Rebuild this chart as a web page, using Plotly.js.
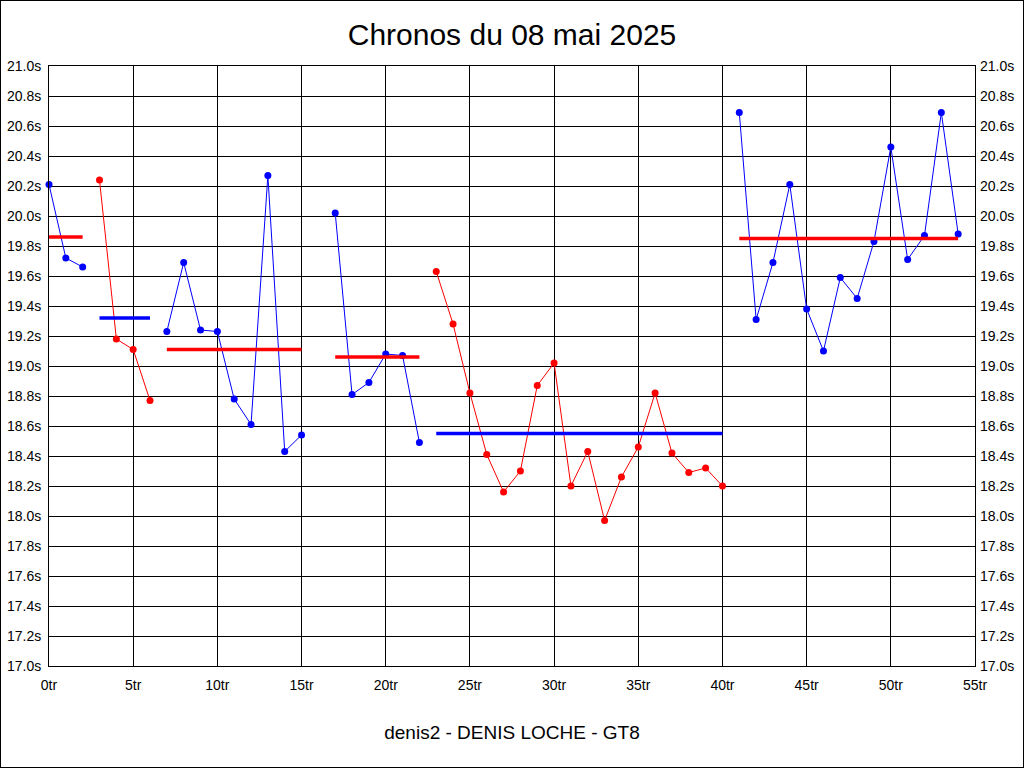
<!DOCTYPE html>
<html>
<head>
<meta charset="utf-8">
<script src="https://cdn.plot.ly/plotly-3.0.1.min.js"></script>
<style>
html,body{margin:0;padding:0;background:#fff;}
#chart{width:1022px;height:766px;border:1px solid #000;}
</style>
</head>
<body>
<div id="chart"></div>
<script>
// Lap numbers (tours) and lap times in seconds (null = no lap)
const laps = [];
for (let i = 0; i <= 54; i++) laps.push(i);
const lapTimes = [
  20.21, 19.72, 19.66,
  20.24, 19.18, 19.11, 18.77,
  19.23, 19.69, 19.24, 19.23, 18.78, 18.61, 20.27, 18.43, 18.54,
  null,
  20.02, 18.81, 18.89, 19.08, 19.07, 18.49,
  19.63, 19.28, 18.82, 18.41, 18.16, 18.30, 18.87, 19.02, 18.20, 18.43, 17.97, 18.26, 18.46, 18.82, 18.42, 18.29, 18.32, 18.20,
  20.69, 19.31, 19.69, 20.21, 19.38, 19.10, 19.59, 19.45, 19.83, 20.46, 19.71, 19.87, 20.69, 19.88
];
// Relay segments (first lap, last lap) and their average times
const segStart = [0, 3, 7, 17, 23, 41];
const segEnd   = [2, 6, 15, 22, 40, 54];
const segAvg   = [19.86, 19.32, 19.11, 19.06, 18.55, 19.85];
// Tick values and labels
const yTickVals = [17.0,17.2,17.4,17.6,17.8,18.0,18.2,18.4,18.6,18.8,19.0,19.2,19.4,19.6,19.8,20.0,20.2,20.4,20.6,20.8,21.0];
const yTickText = ['17.0s','17.2s','17.4s','17.6s','17.8s','18.0s','18.2s','18.4s','18.6s','18.8s','19.0s','19.2s','19.4s','19.6s','19.8s','20.0s','20.2s','20.4s','20.6s','20.8s','21.0s'];
const xTickVals = [0,5,10,15,20,25,30,35,40,45,50,55];
const xTickText = ['0tr','5tr','10tr','15tr','20tr','25tr','30tr','35tr','40tr','45tr','50tr','55tr'];

// styles
const segLineColor = ['#0000ff','#ff0000','#0000ff','#0000ff','#ff0000','#0000ff'];
const avgLineColor = ['#ff0000','#0000ff','#ff0000','#ff0000','#0000ff','#ff0000'];

const traces = [];
for (let s = 0; s < segStart.length; s++) {
  const xs = laps.slice(segStart[s], segEnd[s] + 1);
  const ys = lapTimes.slice(segStart[s], segEnd[s] + 1);
  traces.push({
    x: xs, y: ys, type: 'scatter', mode: 'lines+markers',
    line: {color: segLineColor[s], width: 1},
    marker: {color: segLineColor[s], size: 7},
    hoverinfo: 'x+y', showlegend: false, cliponaxis: false
  });
}
for (let s = 0; s < segStart.length; s++) {
  traces.push({
    x: [segStart[s], segEnd[s]], y: [segAvg[s], segAvg[s]],
    type: 'scatter', mode: 'lines',
    line: {color: avgLineColor[s], width: 3.5},
    hoverinfo: 'y', showlegend: false
  });
}
// invisible trace to activate right axis
traces.push({x: [segStart[0]], y: [segAvg[0]], yaxis: 'y2', type: 'scatter', mode: 'markers',
  marker: {opacity: 0}, hoverinfo: 'skip', showlegend: false});

const font = 'Liberation Sans, Arial, sans-serif';
const tf = {family: font, size: 14, color: '#000'};
const layout = {
  width: 1022, height: 766,
  paper_bgcolor: '#ffffff', plot_bgcolor: '#ffffff',
  margin: {l: 48, r: 48, t: 65, b: 101, pad: 0},
  font: {family: font, color: '#000', size: 14},
  title: {text: 'Chronos du 08 mai 2025', font: {family: font, size: 30, color: '#000'},
    x: 0.5, xanchor: 'center', y: 1 - 33/766, yanchor: 'middle', yref: 'container'},
  xaxis: {
    range: [0, 55], tickmode: 'array', tickvals: xTickVals, ticktext: xTickText,
    showgrid: true, gridcolor: '#000', gridwidth: 1, zeroline: false,
    showline: true, linecolor: '#000', linewidth: 1, mirror: true,
    ticks: '', ticklabelstandoff: 6,
    tickfont: tf,
    title: {text: 'denis2 - DENIS LOCHE - GT8', font: {family: font, size: 19, color: '#000'}, standoff: 33},
    automargin: false
  },
  yaxis: {
    range: [17, 21], tickmode: 'array', tickvals: yTickVals, ticktext: yTickText,
    showgrid: true, gridcolor: '#000', gridwidth: 1, zeroline: false,
    showline: true, linecolor: '#000', linewidth: 1, mirror: true,
    ticks: '', ticklabelstandoff: 4,
    tickfont: tf,
    automargin: false
  },
  yaxis2: {
    range: [17, 21], tickmode: 'array', tickvals: yTickVals, ticktext: yTickText,
    overlaying: 'y', side: 'right', showgrid: false, zeroline: false,
    showline: false, ticks: '', ticklabelstandoff: 4,
    tickfont: tf,
    automargin: false
  },
  showlegend: false
};
Plotly.newPlot('chart', traces, layout, {displayModeBar: false, staticPlot: true});
</script>
</body>
</html>
